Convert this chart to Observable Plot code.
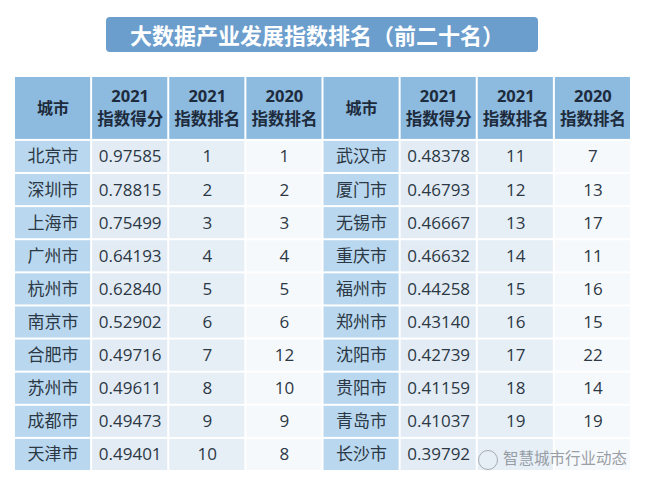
<!DOCTYPE html>
<html><head><meta charset="utf-8">
<script src="https://cdn.jsdelivr.net/npm/d3@7"></script>
<script src="https://cdn.jsdelivr.net/npm/@observablehq/plot@0.6"></script>
<style>
body{margin:0;background:#fff;font-family:"Noto Sans CJK SC","Noto Sans",sans-serif;}
#wrap{position:relative;width:650px;height:486px;overflow:hidden;}
#title{position:absolute;left:106px;top:17px;width:432px;height:35px;background:#6b9dcd;border-radius:4px;color:#fff;font-weight:bold;font-size:22px;line-height:35px;text-align:center;padding-right:10px;box-sizing:border-box;}
#wm{position:absolute;left:478px;top:446px;color:#8a8f96;font-size:15.5px;opacity:0.85;white-space:nowrap;}
#wm span{display:inline-block;width:20px;height:20px;border:1.5px solid #9aa0a6;border-radius:50%;vertical-align:middle;margin-right:5px;box-sizing:border-box;}
#chart{position:absolute;left:0;top:0;}
</style></head><body>
<div id="wrap"><div id="chart"></div><div id="title">大数据产业发展指数排名（前二十名）</div><div id="wm"><span></span>智慧城市行业动态</div></div>
<script>
const cities = ["北京市","深圳市","上海市","广州市","杭州市","南京市","合肥市","苏州市","成都市","天津市",
                "武汉市","厦门市","无锡市","重庆市","福州市","郑州市","沈阳市","贵阳市","青岛市","长沙市"];
const scores2021 = ["0.97585","0.78815","0.75499","0.64193","0.62840","0.52902","0.49716","0.49611","0.49473","0.49401",
                    "0.48378","0.46793","0.46667","0.46632","0.44258","0.43140","0.42739","0.41159","0.41037","0.39792"];
const rank2021 = [1,2,3,4,5,6,7,8,9,10,11,12,13,14,15,16,17,18,19,null];
const rank2020 = [1,2,3,4,5,6,12,10,9,8,7,13,17,11,16,15,22,14,19,null];
const headYears = ["","2021","2021","2020"];
const headLabels = ["城市","指数得分","指数排名","指数排名"];

const colFill = ["#b9d7ef","#e3ecf5","#e6eef6","#f6f9fc"];
const cells = [];
const heads = [];
for (let side = 0; side < 2; side++) {
  headLabels.forEach((h,k) => heads.push({col: side*4+k, year: headYears[k], label: h, k}));
}
cities.forEach((c,i) => {
  const side = Math.floor(i/10), row = i%10;
  const vals = [c, scores2021[i], rank2021[i] == null ? "" : String(rank2021[i]), rank2020[i] == null ? "" : String(rank2020[i])];
  vals.forEach((v,k) => cells.push({col: side*4+k, row, text: v, k}));
});

const headFont = "'Noto Sans CJK SC', sans-serif";
const plot = Plot.plot({
  width: 650, height: 486, margin: 0,
  x: {type: "linear", domain: [0, 8], range: [14, 631], axis: null},
  y: {type: "linear", domain: [-1.93, 10], range: [76, 471], axis: null},
  style: {background: "transparent"},
  marks: [
    Plot.rect(heads, {x1: d => d.col, x2: d => d.col + 1, y1: -1.93, y2: 0, fill: "#8dbadf", inset: 1}),
    Plot.rect(cells, {x1: d => d.col, x2: d => d.col + 1, y1: d => d.row, y2: d => d.row + 1, fill: d => colFill[d.k], inset: 1}),
    Plot.text(heads.filter(d => d.k > 0), {x: d => d.col + 0.5, y: -0.965, dy: -12, text: "year", fill: "#1d2b3c", fontWeight: "bold", fontSize: 16.5, fontFamily: "'Open Sans', sans-serif"}),
    Plot.text(heads.filter(d => d.k > 0), {x: d => d.col + 0.5, y: -0.965, dy: 11.5, text: "label", fill: "#1d2b3c", fontWeight: "bold", fontSize: 16.5, fontFamily: headFont}),
    Plot.text(heads.filter(d => d.k === 0), {x: d => d.col + 0.5, y: -0.965, text: "label", fill: "#1d2b3c", fontWeight: "bold", fontSize: 16, fontFamily: headFont}),
    Plot.text(cells, {x: d => d.col + 0.5, y: d => d.row + 0.5, text: "text", fill: "#2c3844", fontSize: 17, fontFamily: "'Open Sans','Noto Sans CJK SC', sans-serif"})
  ]
});
document.getElementById("chart").appendChild(plot);
</script>
</body></html>
